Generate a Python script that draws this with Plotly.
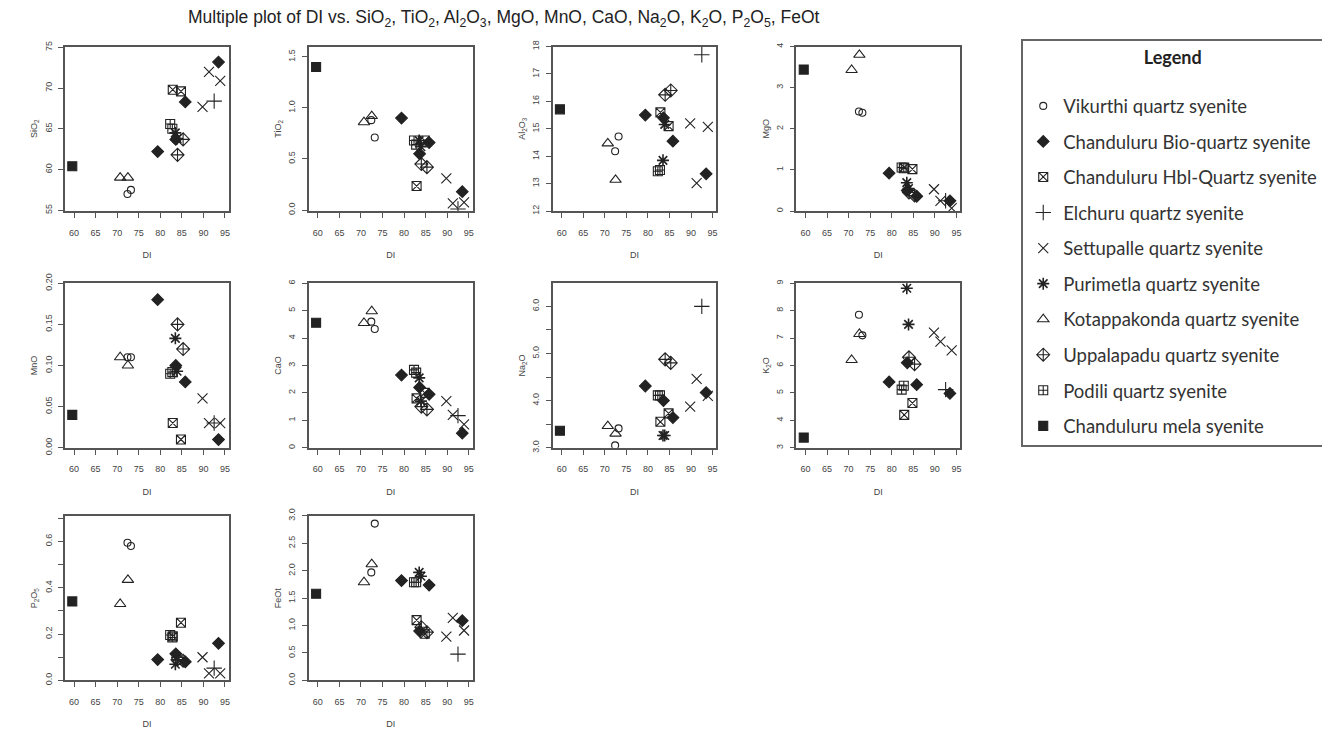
import plotly.graph_objects as go

# ---------------- data ----------------
groups = ["Vikurthi quartz syenite", "Chanduluru Bio-quartz syenite",
          "Chanduluru Hbl-Quartz syenite", "Elchuru quartz syenite",
          "Settupalle quartz syenite", "Purimetla quartz syenite",
          "Kotappakonda quartz syenite", "Uppalapadu quartz syenite",
          "Podili quartz syenite", "Chanduluru mela syenite"]

# group index of every sample
sample_group = [9, 6, 6, 0, 0, 1, 1, 1, 1, 2, 2, 5, 5, 7, 7, 8, 8, 4, 4, 4, 3]
DI = [59.6, 70.7, 72.5, 72.4, 73.2, 79.4, 85.8, 93.5, 83.6, 82.9, 84.8,
      83.5, 83.9, 84.0, 85.3, 82.3, 82.8, 89.8, 91.3, 93.9, 92.5]

SiO2 = [60.4, 59.0, 59.0, 57.0, 57.5, 62.2, 68.3, 73.2, 63.7, 69.8, 69.6,
        64.5, 63.8, 61.8, 63.7, 65.6, 65.0, 67.7, 72.0, 70.9, 68.4]
TiO2 = [1.40, 0.86, 0.92, 0.88, 0.71, 0.90, 0.66, 0.18, 0.55, 0.235, 0.68,
        0.68, 0.62, 0.45, 0.42, 0.68, 0.64, 0.31, 0.065, 0.076, 0.01]
Al2O3 = [15.71, 14.47, 13.14, 14.18, 14.72, 15.5, 14.55, 13.36, 15.4, 15.6, 15.1,
         13.85, 15.16, 16.24, 16.4, 13.45, 13.5, 15.2, 13.02, 15.07, 17.7]
MgO = [3.44, 3.43, 3.8, 2.42, 2.39, 0.92, 0.36, 0.25, 0.5, 1.06, 1.02,
       0.69, 0.55, 0.45, 0.38, 1.06, 1.04, 0.53, 0.25, 0.07, 0.25]
MnO = [0.04, 0.11, 0.10, 0.11, 0.11, 0.18, 0.08, 0.01, 0.10, 0.03, 0.01,
       0.133, 0.093, 0.15, 0.12, 0.09, 0.092, 0.06, 0.03, 0.03, 0.03]
CaO = [4.56, 4.55, 4.98, 4.6, 4.33, 2.65, 1.95, 0.53, 2.2, 1.8, 2.0,
       2.55, 1.7, 1.5, 1.4, 2.84, 2.74, 1.7, 1.2, 0.85, 1.17]
Na2O = [3.36, 3.46, 3.3, 3.05, 3.41, 4.31, 3.64, 4.17, 4.0, 3.55, 3.73,
        3.26, 3.26, 4.875, 4.8, 4.11, 4.11, 3.87, 4.46, 4.1, 6.0]
K2O = [3.37, 6.2, 7.15, 7.85, 7.1, 5.4, 5.3, 4.98, 6.1, 4.2, 4.63,
       8.82, 7.5, 6.3, 6.05, 5.12, 5.26, 7.2, 6.87, 6.55, 5.12]
P2O5 = [0.341, 0.33, 0.434, 0.594, 0.58, 0.09, 0.08, 0.16, 0.115, 0.19, 0.249,
        0.07, 0.10, 0.09, 0.085, 0.196, 0.185, 0.10, 0.03, 0.03, 0.053]
FeOt = [1.58, 1.79, 2.12, 1.97, 2.86, 1.82, 1.74, 1.09, 0.9, 1.1, 0.85,
        1.97, 1.9, 0.97, 0.88, 1.79, 1.79, 0.8, 1.14, 0.91, 0.48]

oxide_names = ["SiO<sub>2</sub>", "TiO<sub>2</sub>", "Al<sub>2</sub>O<sub>3</sub>", "MgO", "MnO",
               "CaO", "Na<sub>2</sub>O", "K<sub>2</sub>O", "P<sub>2</sub>O<sub>5</sub>", "FeOt"]
oxide_values = [SiO2, TiO2, Al2O3, MgO, MnO, CaO, Na2O, K2O, P2O5, FeOt]
y_ranges = [[54.9, 75.1], [-0.01, 1.6], [12, 18], [0, 4], [0, 0.2],
            [0, 6], [3.0, 6.49], [3, 9], [0, 0.71], [0, 3.0]]
y_tickvals = [[55, 60, 65, 70, 75], [0, 0.5, 1.0, 1.5], [12, 13, 14, 15, 16, 17, 18],
              [0, 1, 2, 3, 4], [0, 0.05, 0.10, 0.15, 0.20], [0, 1, 2, 3, 4, 5, 6],
              [3.0, 4.0, 5.0, 6.0], [3, 4, 5, 6, 7, 8, 9],
              [0, 0.2, 0.4, 0.6], [0, 0.5, 1.0, 1.5, 2.0, 2.5, 3.0]]
y_ticktext = [["55", "60", "65", "70", "75"], ["0.0", "0.5", "1.0", "1.5"],
              ["12", "13", "14", "15", "16", "17", "18"], ["0", "1", "2", "3", "4"],
              ["0.00", "0.05", "0.10", "0.15", "0.20"], ["0", "1", "2", "3", "4", "5", "6"],
              ["3.0", "4.0", "5.0", "6.0"], ["3", "4", "5", "6", "7", "8", "9"],
              ["0.0", "0.2", "0.4", "0.6"],
              ["0.0", "0.5", "1.0", "1.5", "2.0", "2.5", "3.0"]]
# unlabelled intermediate ticks
y_minor_ticks = [[], [], [], [], [], [], [3.5, 4.5, 5.5], [], [0.1, 0.3, 0.5, 0.7], []]
x_tickvals = [60, 65, 70, 75, 80, 85, 90, 95]
x_range = [57.9, 95.9]

# ---------------- styling ----------------
symbols = ["circle-open", "diamond", "square-x-open", "cross-thin-open", "x-thin-open",
           "asterisk-open", "triangle-up-open", "diamond-cross-open", "square-cross-open", "square"]
sizes = [7, 9, 9, 11, 10, 10, 10, 10, 9, 9]
INK = "#222222"
AX = "#555555"
TXT = "#444444"
TICKFONT = dict(size=9, color=TXT, family="Liberation Sans, Arial")

W, H = 1330, 733
# observed mapping between the figure and the photographed window
OX = 8
OY, SY = 17.5, 0.974
lefts = [65, 309, 553, 797]
tops = [46, 282, 514]
PW, PH = 164, 164


def px(x):
    return (x - OX) / W


def py(y):
    return 1 - ((y - OY) / SY) / H


fig = go.Figure()
layout = {}
for i in range(10):
    r, c = divmod(i, 4)
    n = i + 1
    xa = "xaxis" if n == 1 else f"xaxis{n}"
    ya = "yaxis" if n == 1 else f"yaxis{n}"
    xref = "x" if n == 1 else f"x{n}"
    yref = "y" if n == 1 else f"y{n}"
    layout[xa] = dict(domain=[px(lefts[c]), px(lefts[c] + PW)], anchor=yref, range=x_range,
                      tickvals=x_tickvals, ticks="outside", ticklen=5, tickwidth=1,
                      tickcolor=AX, showline=True, linecolor=AX, linewidth=1.6, mirror=True,
                      showgrid=False, zeroline=False,
                      tickfont=TICKFONT, ticklabelstandoff=7,
                      title=dict(text="DI", standoff=15, font=TICKFONT))
    ydict = dict(domain=[py(tops[r] + PH), py(tops[r])], anchor=xref, range=y_ranges[i],
                 tickvals=y_tickvals[i], ticktext=y_ticktext[i], tickangle=-90,
                 ticks="outside", ticklen=5, tickwidth=1, tickcolor=AX,
                 showline=True, linecolor=AX, linewidth=1.6, mirror=True,
                 showgrid=False, zeroline=False,
                 tickfont=TICKFONT, ticklabelstandoff=3,
                 title=dict(text=oxide_names[i], standoff=4, font=TICKFONT))
    if y_minor_ticks[i]:
        ydict["minor"] = dict(tickmode="array", tickvals=y_minor_ticks[i], ticks="outside",
                              ticklen=5, tickwidth=1, tickcolor=AX, showgrid=False)
    layout[ya] = ydict
    vals = oxide_values[i]
    for g in range(len(groups)):
        xs = [DI[k] for k in range(len(DI)) if sample_group[k] == g]
        ys = [vals[k] for k in range(len(DI)) if sample_group[k] == g]
        fig.add_trace(go.Scatter(
            x=xs, y=ys, mode="markers", name=groups[g], legendgroup=groups[g],
            showlegend=(i == 0), xaxis=xref, yaxis=yref,
            marker=dict(symbol=symbols[g], size=sizes[g], color=INK,
                        line=dict(color=INK, width=1.6 if g == 5 else 1.1))))

fig.update_layout(**layout)
fig.update_layout(
    width=W, height=H, margin=dict(l=0, r=0, t=0, b=0),
    paper_bgcolor="white", plot_bgcolor="white",
    showlegend=True,
    legend=dict(x=px(1022), y=py(38), xanchor="left", yanchor="top",
                bordercolor="#666666", borderwidth=2, bgcolor="white",
                font=dict(family="Lato, Open Sans", size=18.5, color="#333333"),
                title=dict(text="<b>Legend</b><br> ", side="top center",
                           font=dict(family="Lato, Open Sans", size=18, color="#222222")),
                tracegroupgap=8.5, itemsizing="trace"),
    annotations=[dict(
        text="Multiple plot of DI vs. SiO<sub>2</sub>, TiO<sub>2</sub>, Al<sub>2</sub>O<sub>3</sub>, MgO, MnO, CaO, Na<sub>2</sub>O, K<sub>2</sub>O, P<sub>2</sub>O<sub>5</sub>, FeOt",
        x=px(504), y=py(18), xref="paper", yref="paper", xanchor="center", yanchor="middle",
        showarrow=False, font=dict(family="Liberation Sans, Arial", size=17.5, color="#222222"))],
)

fig.write_html("out.html")
